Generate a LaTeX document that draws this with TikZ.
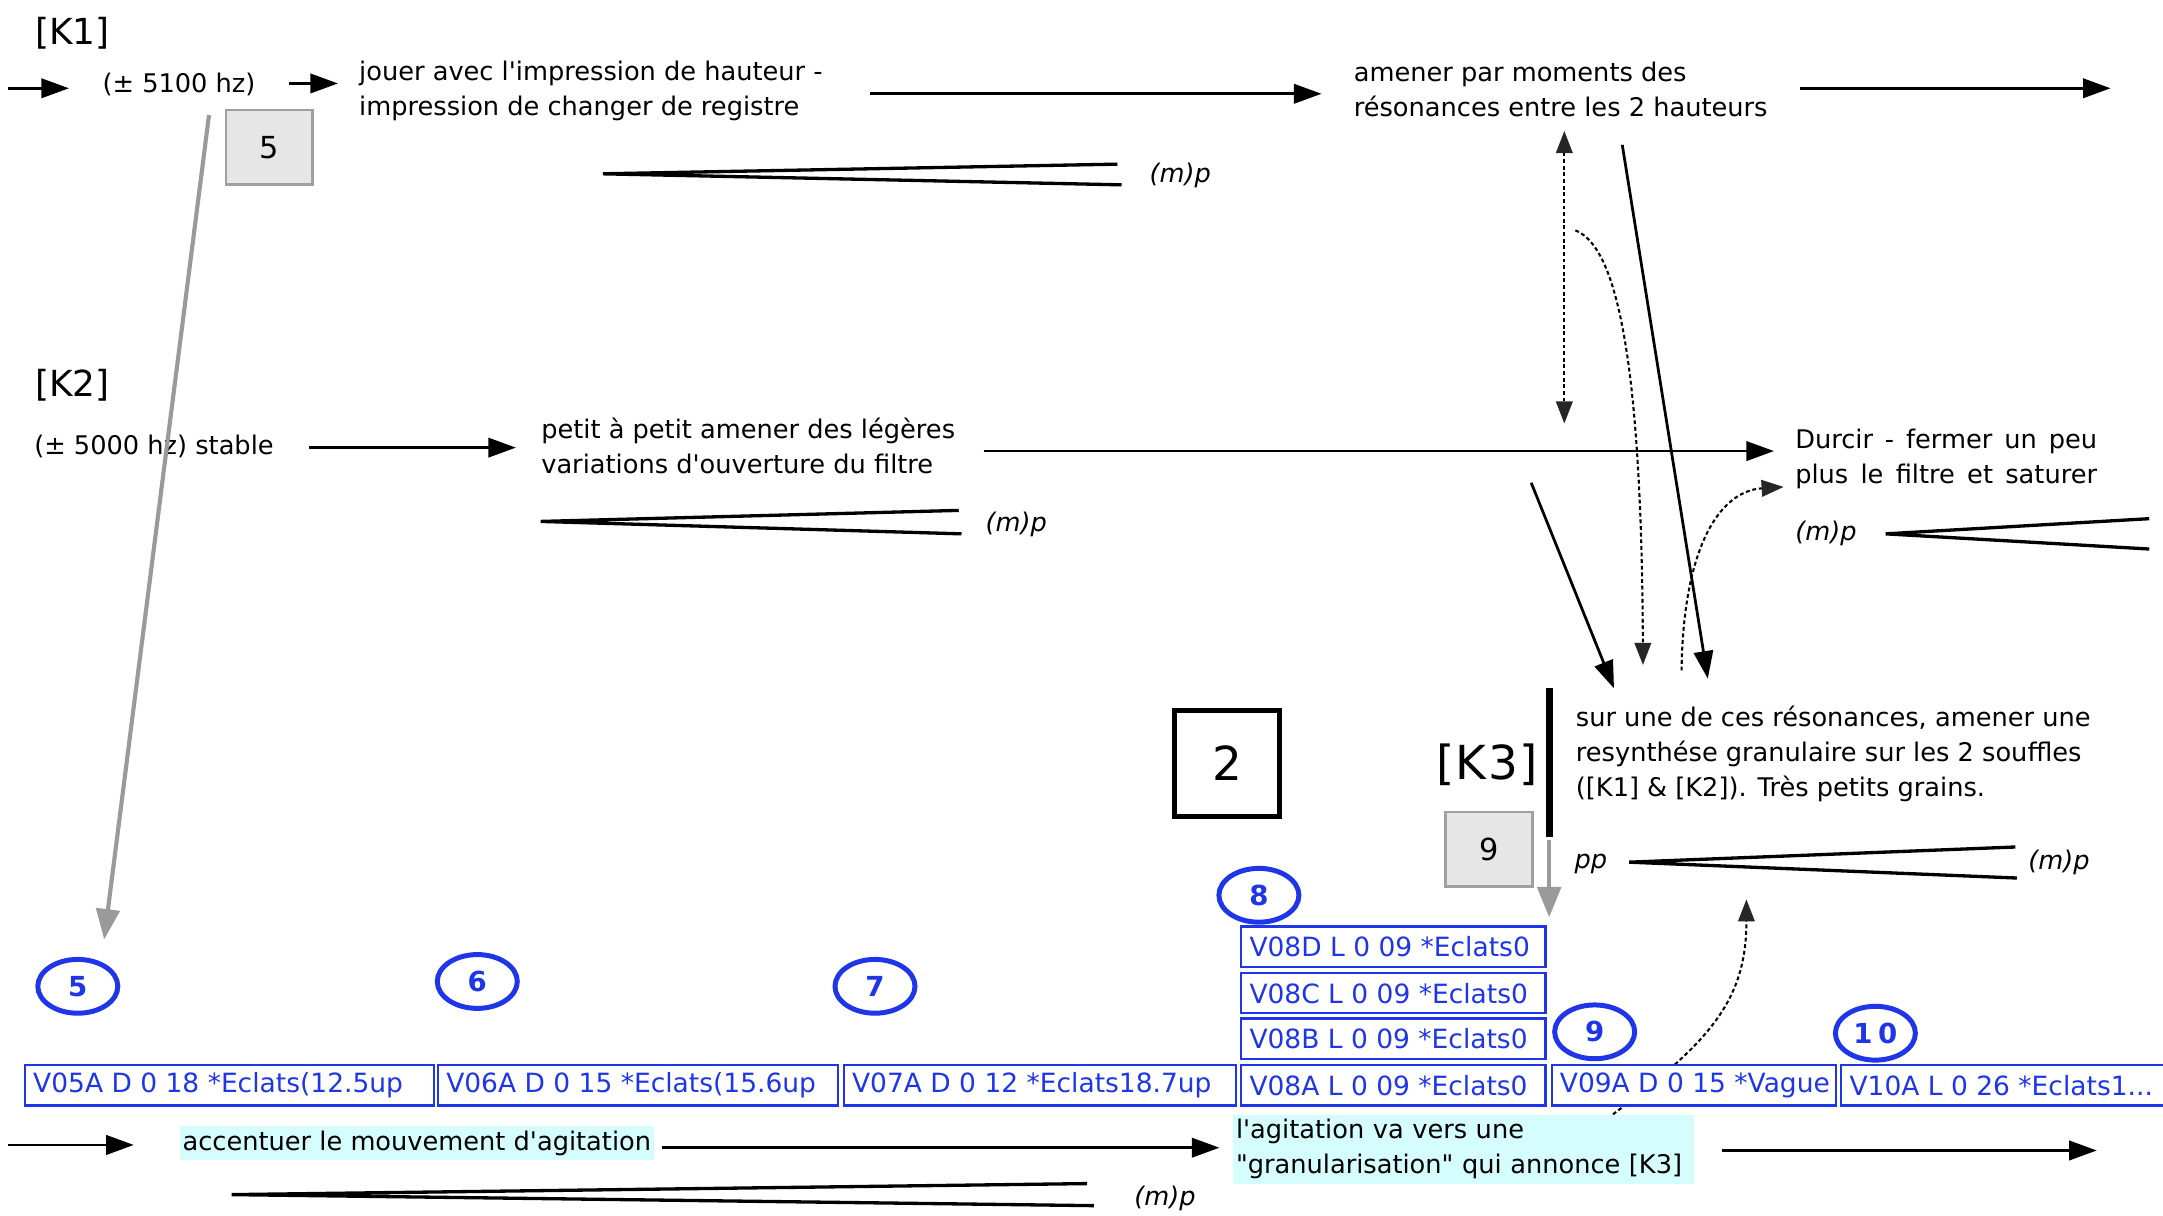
\documentclass[tikz,border=0pt]{standalone}
\usepackage{fontspec}
\setmainfont{DejaVu Sans}
\usepackage{calc}
\usetikzlibrary{arrows.meta,shapes.geometric}
\definecolor{vblue}{HTML}{1F35E8}
\definecolor{hlcyan}{HTML}{D5FDFD}
\definecolor{gboxfill}{HTML}{E6E6E6}
\definecolor{gboxline}{HTML}{A0A0A0}
\definecolor{glinecol}{HTML}{9A9A9A}
\newcommand{\tf}{\fontsize{9.3}{12.75}\selectfont}
\newcommand{\vf}{\fontsize{9.6}{12}\selectfont}
\newcommand{\ap}{\textquotesingle}
\newcommand{\dq}{\textquotedbl}
\tikzset{dothead/.tip={Triangle[length=8pt,width=6pt,fill=black!85,color=black!85]}}
\begin{document}
\begin{tikzpicture}[x=0.5pt,y=-0.5pt,
  txt/.style={font=\tf,inner sep=0pt,anchor=west,align=left},
  dyn/.style={font=\tf\itshape,inner sep=0pt,anchor=west},
  klabel/.style={font=\fontsize{13}{15}\selectfont,inner sep=0pt,anchor=west},
  arr/.style={line width=1pt,-{Triangle[length=10pt,width=7pt]}},
  garr/.style={line width=1.5pt,draw=glinecol,-{Triangle[length=11pt,width=8.5pt,fill=glinecol]}},
  hairpin/.style={line width=1.2pt},
  dotline/.style={line width=0.75pt,dash pattern=on 1.4pt off 1pt},
  gbox/.style={draw=gboxline,fill=gboxfill,line width=1pt,minimum width=31.5pt,minimum height=27pt,inner sep=0pt,font=\fontsize{11}{13}\selectfont},
  vbox/.style={draw=vblue,line width=0.8pt,fill=white,text=vblue,font=\vf,anchor=west,minimum height=14.6pt,inner xsep=3pt,inner ysep=0pt},
  vnum/.style={ellipse,draw=vblue,line width=1.8pt,text=vblue,minimum width=29pt,minimum height=19.5pt,inner sep=0pt,font=\fontsize{10}{12}\selectfont\bfseries},
  hl/.style={fill=hlcyan,inner xsep=1pt,inner ysep=1.6pt,font=\tf,anchor=west,align=left}
]
\useasboundingbox (0,0) rectangle (1568,881);
\fill[white] (0,0) rectangle (1568,881);
\clip (0,0) rectangle (1568,881);

% ---------- coordinates for free arrows ----------
\coordinate (a1s) at (6,64);     \coordinate (a1e) at (50,64);
\coordinate (a2s) at (209.5,60.5); \coordinate (a2e) at (245,60.5);
\coordinate (a3s) at (631,68);   \coordinate (a3e) at (958,68);
\coordinate (a4s) at (1305,64);  \coordinate (a4e) at (1530,64);
\coordinate (a5s) at (224,324.5); \coordinate (a5e) at (374,324.5);
\coordinate (a6s) at (713,327);  \coordinate (a6e) at (1286,327);
\coordinate (a7s) at (1176,105); \coordinate (a7e) at (1238,492);
\coordinate (a8s) at (1110,350); \coordinate (a8e) at (1170,499);
\coordinate (a9s) at (6,830);    \coordinate (a9e) at (97,830);
\coordinate (a10s) at (480,832); \coordinate (a10e) at (884,832);
\coordinate (a11s) at (1248,834); \coordinate (a11e) at (1520,834);
\coordinate (g1s) at (151.5,83.5); \coordinate (g1e) at (75.5,681);
\coordinate (g2s) at (1123,609); \coordinate (g2e) at (1123,665);
\coordinate (dvt) at (1134,95);  \coordinate (dvb) at (1134,307);
\coordinate (c1s) at (1142,167); \coordinate (c1e) at (1191,482);
\coordinate (c2s) at (1219,486); \coordinate (c2e) at (1293,353);
\coordinate (c3s) at (1150,822); \coordinate (c3e) at (1266,652);
\coordinate (bart) at (1123.5,499); \coordinate (barb) at (1123.5,607);
% hairpins
\coordinate (h1a) at (437,126); \coordinate (h1u) at (810,119); \coordinate (h1l) at (813,134);
\coordinate (h2a) at (392,378); \coordinate (h2u) at (695,370); \coordinate (h2l) at (697,387);
\coordinate (h3a) at (1367,387); \coordinate (h3u) at (1558,376); \coordinate (h3l) at (1558,398);
\coordinate (h4a) at (1181,625); \coordinate (h4u) at (1461,614); \coordinate (h4l) at (1462,636.5);
\coordinate (h5a) at (168,866); \coordinate (h5u) at (788,858); \coordinate (h5l) at (793,874);

% ---------- dotted curves (behind boxes) ----------
\draw[dotline,dothead-dothead] (dvt) -- (dvb);
\draw[dotline,-dothead] (c1s) .. controls (1170,178) and (1190,250) .. (c1e);
\draw[dotline,-dothead] (c2s) .. controls (1220,400) and (1245,356) .. (c2e);
\draw[dotline,-dothead] (c3s) .. controls (1235,760) and (1266,730) .. (c3e);

% ---------- K1 row ----------
\node[klabel] (k1) at (25,24) {[K1]};
\node[txt] (f1) at (74,61.5) {(±\ 5100\ hz)};
\node[gbox] (b5) at (195.3,106.7) {5};
\node[txt] (t1) at (260,66) {jouer avec l\ap impression de hauteur -\\impression de changer de registre};
\node[txt] (t2) at (981,65) {amener par moments des\\résonances entre les 2 hauteurs};
\node[dyn] (m1) at (833,127) {(m)p};
\draw[arr] (a1s) -- (a1e);
\draw[arr] (a2s) -- (a2e);
\draw[arr] (a3s) -- (a3e);
\draw[arr] (a4s) -- (a4e);
\draw[hairpin] (h1u) -- (h1a) -- (h1l);

% ---------- K2 row ----------
\node[klabel] (k2) at (25,279) {[K2]};
\node[txt] (f2) at (24.5,323.5) {(± 5000 hz) stable};
\node[txt] (t3) at (392,323) {petit à petit amener des légères\\variations d\ap ouverture du filtre};
\node[txt] (t4) at (1301,332.5) {\makebox[\widthof{plus le filtre et saturer}+6pt][s]{Durcir - fermer un peu}\\\makebox[\widthof{plus le filtre et saturer}+6pt][s]{plus le filtre et saturer}};
\node[dyn] (m2) at (714,380) {(m)p};
\node[dyn] (m3) at (1301,386.5) {(m)p};
\draw[arr] (a5s) -- (a5e);
\draw[arr] (a6s) -- (a6e);
\draw[hairpin] (h2u) -- (h2a) -- (h2l);
\draw[hairpin] (h3u) -- (h3a) -- (h3l);

% ---------- diagonal arrows ----------
\draw[arr] (a7s) -- (a7e);
\draw[arr] (a8s) -- (a8e);

% ---------- K3 ----------
\node[draw,line width=1.8pt,minimum width=38pt,minimum height=38.5pt,inner sep=0pt,font=\fontsize{17}{19}\selectfont] (box2) at (889.6,553.4) {2};
\node[inner sep=0pt,font=\fontsize{17}{19}\selectfont] (k3) at (1078,554.5) {[\kern0.6pt K\kern0.6pt 3\kern0.6pt ]};
\draw[line width=2.5pt] (bart) -- (barb);
\node[gbox] (b9) at (1079.3,615.7) {9};
\draw[garr] (g2s) -- (g2e);
\node[txt] (t5) at (1142,546.5) {sur une de ces résonances, amener une\\resynthése granulaire sur les 2 souffles\\([K1] \& [K2]). Très petits grains.};
\node[dyn] (pp) at (1141,626) {pp};
\node[dyn] (m4) at (1470,625) {(m)p};
\draw[hairpin] (h4u) -- (h4a) -- (h4l);

% ---------- bottom row ----------
\node[hl] (hl1) at (130,828.7) {accentuer le mouvement d\ap agitation};
\node[hl,text width=165pt] (hl2) at (893.6,833) {l\ap agitation va vers une\\\dq granularisation\dq{} qui annonce [K3]};
\draw[arr] (a9s) -- (a9e);
\draw[arr] (a10s) -- (a10e);
\draw[arr] (a11s) -- (a11e);
\node[dyn] (m5) at (822,869) {(m)p};
\draw[hairpin] (h5u) -- (h5a) -- (h5l);

% ---------- blue boxes ----------
\node[vbox] (v5) at (17.3,786.8) {\makebox[142.25pt][l]{V05A D 0 18 *Eclats(12.5up}};
\node[vbox] (v6) at (316.7,786.8) {\makebox[139pt][l]{V06A D 0 15 *Eclats(15.6up}};
\node[vbox] (v7) at (610.9,786.8) {\makebox[136pt][l]{V07A D 0 12 *Eclats18.7up}};
\node[vbox] (v8a) at (899,786.8) {\makebox[104.25pt][l]{V08A L 0 09 *Eclats0}};
\node[vbox] (v8b) at (899,753) {\makebox[104.25pt][l]{V08B L 0 09 *Eclats0}};
\node[vbox] (v8c) at (899,720) {\makebox[104.25pt][l]{V08C L 0 09 *Eclats0}};
\node[vbox] (v8d) at (899,686.3) {\makebox[104.25pt][l]{V08D L 0 09 *Eclats0}};
\node[vbox] (v9) at (1124,786.8) {\makebox[97pt][l]{V09A D 0 15 *Vague}};
\node[vbox] (v10) at (1334,786.8) {\makebox[127pt][l]{V10A L 0 26 *Eclats1...}};

% ---------- blue circles ----------
\node[vnum] (c5) at (56.4,715) {5};
\node[vnum] (c6) at (346,711.5) {6};
\node[vnum] (c7) at (634.3,715) {7};
\node[vnum] (c8) at (912.6,649) {8};
\node[vnum] (c9) at (1156,748) {9};
\node[vnum] (c10) at (1359.5,749) {1\kern2pt 0};

% ---------- gray long arrow ----------
\draw[garr] (g1s) -- (g1e);
\end{tikzpicture}
\end{document}
